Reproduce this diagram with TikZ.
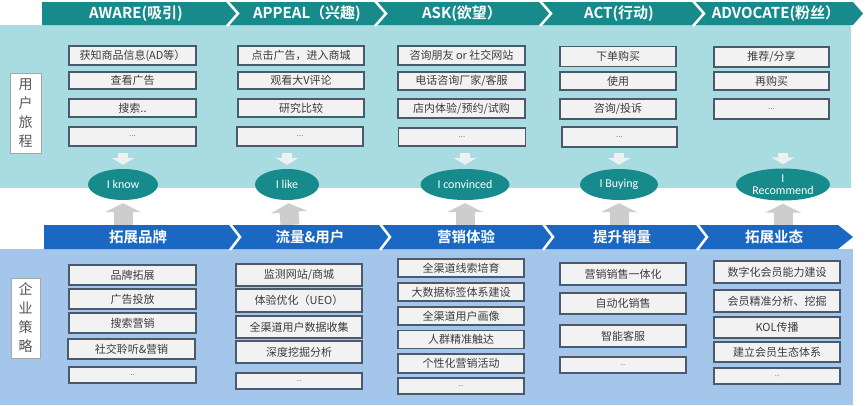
\documentclass[tikz,border=0pt]{standalone}
\usepackage{fontspec}
\setmainfont{Noto Sans CJK SC}[BoldFont={Noto Sans CJK SC Bold}]
\newfontfamily\latinfont{Carlito}
\usetikzlibrary{arrows.meta,shapes.geometric}
\definecolor{tealdark}{HTML}{178A8C}
\definecolor{tealbg}{HTML}{A9DCE0}
\definecolor{bluedark}{HTML}{1B68C2}
\definecolor{bluebg}{HTML}{A3C6EA}
\definecolor{boxline}{HTML}{4A596B}
\definecolor{boxfill}{HTML}{F2F2F2}
\definecolor{txtgray}{HTML}{3C3C3C}
\definecolor{sidetxt}{HTML}{555555}
\definecolor{downcol}{HTML}{ECF1F1}
\definecolor{upcol}{HTML}{CDCDCD}
\tikzset{
  jbox/.style={draw=boxline, line width=1.3pt, fill=boxfill, inner sep=0pt,
    font=\fontsize{11}{12}\selectfont, text=txtgray},
  dotbox/.style={jbox, font=\fontsize{8}{9}\selectfont, text=gray},
  ell/.style={ellipse, fill=tealdark, text=white, inner sep=0pt,
    font=\latinfont\fontsize{12}{12.5}\selectfont, align=center},
  sidebox/.style={draw=gray!70, line width=0.8pt, fill=white, inner sep=0pt,
    align=center, font=\fontsize{14}{19}\selectfont, text=sidetxt},
  toptitle/.style={text=white, font=\bfseries\fontsize{15}{16}\selectfont},
  bottitle/.style={text=white, font=\bfseries\fontsize{14.5}{16}\selectfont},
  downarr/.style={draw=downcol, line width=10pt, -{Triangle[width=23pt,length=7pt]}, shorten >=4pt},
  uparr/.style={draw=upcol, line width=19pt, -{Triangle[width=36pt,length=9pt]}, shorten >=3pt},
  sep/.style={draw=white, line width=2.5pt}
}
\begin{document}
\begin{tikzpicture}[x=1pt,y=-1pt]
\useasboundingbox (0,0) rectangle (865,405);
\fill[white] (0,0) rectangle (865,405);
% background regions
\fill[tealbg] (0,25) rectangle (851,188);
\fill[bluebg] (0,249) rectangle (853,405);

% top banner
\fill[tealdark] (42,2) -- (853,2) -- (863,13.5) -- (853,25) -- (42,25) -- cycle;
\foreach \x in {227,375,540,693} \draw[sep] (\x,1) -- (\x+11,13.5) -- (\x,26);
\node[toptitle] (t1) at (136,13.5) {AWARE(吸引)};
\node[toptitle] (t2) at (307,13.5) {APPEAL（兴趣)};
\node[toptitle] (t3) at (462,13.5) {ASK(欲望）};
\node[toptitle] (t4) at (619,13.5) {ACT(行动)};
\node[toptitle] (t5) at (776,13.5) {ADVOCATE(粉丝）};

% side labels
\node[sidebox, minimum width=31, minimum height=80] (s1) at (25.5,113) {用\\户\\旅\\程};
\node[sidebox, minimum width=29, minimum height=80] (s2) at (25.5,318) {企\\业\\策\\略};

% top boxes
\node[jbox, minimum width=127, minimum height=19] (a1) at (132.5,55.5) {获知商品信息(AD等）};
\node[jbox, minimum width=127, minimum height=17] (a2) at (132.5,80.5) {查看广告};
\node[jbox, minimum width=127, minimum height=18] (a3) at (132.5,108) {搜索..};
\node[dotbox, minimum width=127, minimum height=19] (a4) at (132.5,136.5) {...};

\node[jbox, minimum width=126, minimum height=19] (b1) at (301,55.5) {点击广告，进入商城};
\node[jbox, minimum width=126, minimum height=17] (b2) at (301,80.5) {观看大V评论};
\node[jbox, minimum width=126, minimum height=18] (b3) at (301,108) {研究比较};
\node[dotbox, minimum width=126, minimum height=19] (b4) at (300,136.5) {...};

\node[jbox, minimum width=127, minimum height=19] (c1) at (461.5,55.5) {咨询朋友 or 社交网站};
\node[jbox, minimum width=127, minimum height=18] (c2) at (461.5,81) {电话咨询厂家/客服};
\node[jbox, minimum width=127, minimum height=19] (c3) at (461.5,108.5) {店内体验/预约/试购};
\node[dotbox, minimum width=127, minimum height=18] (c4) at (462,137) {...};

\node[jbox, minimum width=116, minimum height=20] (d1) at (618,56.5) {下单购买};
\node[jbox, minimum width=116, minimum height=18] (d2) at (618,81) {使用};
\node[jbox, minimum width=116, minimum height=20] (d3) at (618,109) {咨询/投诉};
\node[dotbox, minimum width=115, minimum height=20] (d4) at (619.5,137) {...};

\node[jbox, minimum width=115, minimum height=20] (f1) at (771.5,57) {推荐/分享};
\node[jbox, minimum width=115, minimum height=18] (f2) at (771.5,81) {再购买};
\node[dotbox, minimum width=115, minimum height=20] (f3) at (771.5,109) {...};

% ellipses
\node[ell, minimum width=70, minimum height=31] (e1) at (123,184.5) {I know};
\node[ell, minimum width=64, minimum height=31] (e2) at (287,184.5) {I like};
\node[ell, minimum width=89, minimum height=31] (e3) at (465,184.5) {I convinced};
\node[ell, minimum width=78, minimum height=31] (e4) at (619,184.5) {I Buying};
\node[ell, minimum width=94, minimum height=32] (e5) at (783,184.5) {I\\Recommend};

% down arrows
\coordinate (da1) at (123,153);
\coordinate (da2) at (287,153);
\coordinate (da3) at (465,153);
\coordinate (da4) at (619,153);
\coordinate (da5) at (783,153);
\foreach \i in {1,...,5} \draw[downarr] (da\i) -- (e\i);

% up arrows
\coordinate (ua1) at (123,225);
\coordinate (ua2) at (290,225);
\coordinate (ua3) at (465,225);
\coordinate (ua4) at (619,225);
\coordinate (ua5) at (783,225);
\foreach \i in {1,...,5} \draw[uparr] (ua\i) -- (e\i);

% bottom banner
\fill[bluedark] (44,225) -- (838,225) -- (853,237) -- (838,249) -- (44,249) -- cycle;
\foreach \x in {230,380,543,697} \draw[sep] (\x,224) -- (\x+10,237) -- (\x,250);
\node[bottitle] (g1) at (138,237) {拓展品牌};
\node[bottitle] (g2) at (310,237) {流量\&用户};
\node[bottitle] (g3) at (466,237) {营销体验};
\node[bottitle] (g4) at (622,237) {提升销量};
\node[bottitle] (g5) at (774,237) {拓展业态};

% bottom boxes
\node[jbox, minimum width=127, minimum height=20] (p1) at (132.5,275) {品牌拓展};
\node[jbox, minimum width=127, minimum height=20] (p2) at (132.5,299) {广告投放};
\node[jbox, minimum width=127, minimum height=20] (p3) at (132.5,323) {搜索营销};
\node[jbox, minimum width=127, minimum height=20] (p4) at (131.5,349) {社交聆听\&营销};
\node[dotbox, minimum width=127, minimum height=16] (p5) at (132.5,375) {..};

\node[jbox, minimum width=126, minimum height=22] (q1) at (299,275) {监测网站/商城};
\node[jbox, minimum width=126, minimum height=23] (q2) at (299,300.5) {体验优化（UEO）};
\node[jbox, minimum width=126, minimum height=22] (q3) at (299,327) {全渠道用户数据收集};
\node[jbox, minimum width=126, minimum height=22] (q4) at (299,352) {深度挖掘分析};
\node[dotbox, minimum width=126, minimum height=16] (q5) at (299,381) {..};

\node[jbox, minimum width=126, minimum height=18] (r1) at (461,268) {全渠道线索培育};
\node[jbox, minimum width=126, minimum height=18] (r2) at (461,292) {大数据标签体系建设};
\node[jbox, minimum width=126, minimum height=18] (r3) at (461,316) {全渠道用户画像};
\node[jbox, minimum width=126, minimum height=18] (r4) at (461,339.5) {人群精准触达};
\node[jbox, minimum width=126, minimum height=19] (r5) at (461,363.5) {个性化营销活动};
\node[dotbox, minimum width=126, minimum height=16] (r6) at (461,386) {..};

\node[jbox, minimum width=126, minimum height=22] (v1) at (623,274) {营销销售一体化};
\node[jbox, minimum width=126, minimum height=21] (v2) at (623,303.5) {自动化销售};
\node[jbox, minimum width=126, minimum height=22] (v3) at (623,336) {智能客服};
\node[dotbox, minimum width=126, minimum height=16] (v4) at (623,365) {..};

\node[jbox, minimum width=126, minimum height=22] (w1) at (777,272) {数字化会员能力建设};
\node[jbox, minimum width=126, minimum height=22] (w2) at (777,301) {会员精准分析、挖掘};
\node[jbox, minimum width=126, minimum height=21] (w3) at (777,327.5) {KOL传播};
\node[jbox, minimum width=126, minimum height=20] (w4) at (777,352) {建立会员生态体系};
\node[dotbox, minimum width=126, minimum height=16] (w5) at (777,376) {..};
\end{tikzpicture}
\end{document}
